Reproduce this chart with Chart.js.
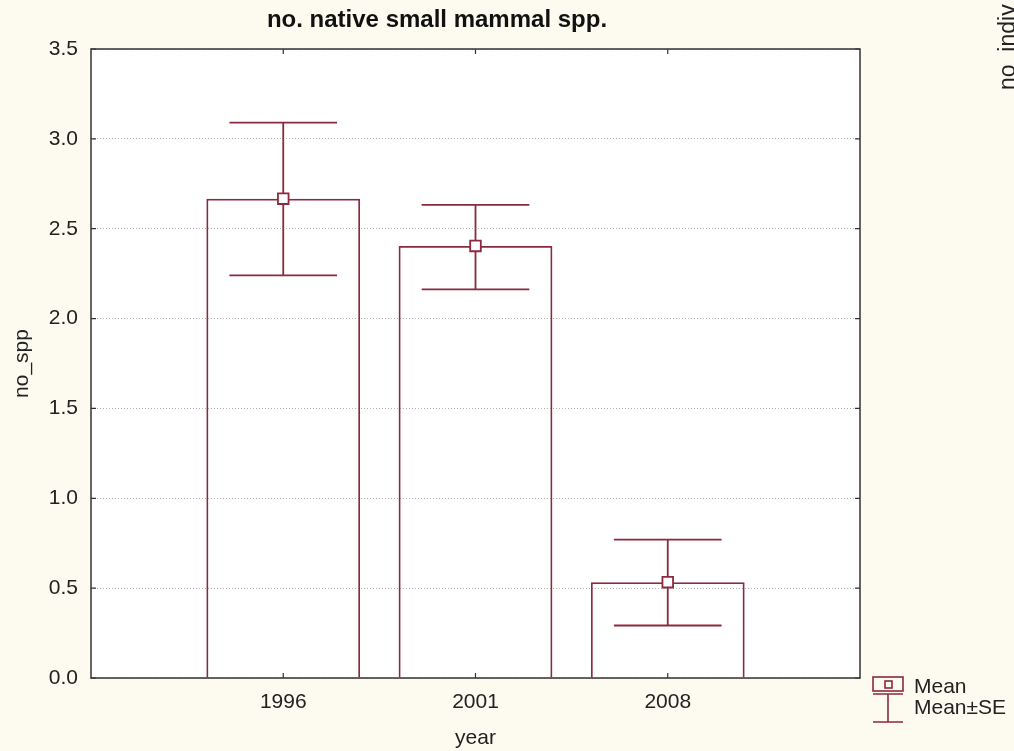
<!DOCTYPE html>
<html>
<head>
<meta charset="utf-8">
<script src="https://cdn.jsdelivr.net/npm/chart.js@4.4.1/dist/chart.umd.min.js"></script>
<style>
  html, body { margin: 0; padding: 0; background: #fdfaf0; }
  #wrap { width: 1014px; height: 751px; }
</style>
</head>
<body>
<div id="wrap"><canvas id="chart" width="1014" height="751"></canvas></div>
<script>
let years = ['1996', '2001', '2008'];
let means = [2.667, 2.404, 0.533];
let seUpper = [3.090, 2.633, 0.770];
let seLower = [2.240, 2.163, 0.292];
let yTicks = [0, 0.5, 1, 1.5, 2, 2.5, 3, 3.5];

let maroon = '#8b2a3e';
let ink = '#222222';
let fontFamily = '"Liberation Sans", Arial, sans-serif';

// years sit at x = 1, 2, 3 on a 0..4 axis
let barPoints = years.map((y, i) => ({ x: i + 1, y: means[i] }));

let backdrop = {
  id: 'backdrop',
  beforeDraw(chart) {
    let { ctx, chartArea: a } = chart;
    ctx.save();
    ctx.fillStyle = '#fdfaf0';
    ctx.fillRect(0, 0, chart.width, chart.height);
    ctx.fillStyle = '#ffffff';
    ctx.fillRect(a.left, a.top, a.right - a.left, a.bottom - a.top);
    ctx.restore();
  }
};

let errorBars = {
  id: 'errorBars',
  afterDatasetDraw(chart, args) {
    if (args.index !== 0) return;
    let { ctx, scales } = chart;
    let meta = chart.getDatasetMeta(0);
    ctx.save();
    ctx.strokeStyle = maroon;
    ctx.lineWidth = 1.8;
    meta.data.forEach((bar, i) => {
      let x = scales.x.getPixelForValue(i + 1);
      let yTop = scales.y.getPixelForValue(seUpper[i]);
      let yBot = scales.y.getPixelForValue(seLower[i]);
      let half = bar.width * 0.35;
      ctx.beginPath();
      ctx.moveTo(x, yTop); ctx.lineTo(x, yBot);
      ctx.moveTo(x - half, yTop); ctx.lineTo(x + half, yTop);
      ctx.moveTo(x - half, yBot); ctx.lineTo(x + half, yBot);
      ctx.stroke();
    });
    ctx.restore();
  }
};

let frame = {
  id: 'frame',
  afterDraw(chart) {
    let { ctx, chartArea: a, scales } = chart;
    ctx.save();
    ctx.strokeStyle = '#333333';
    ctx.lineWidth = 1.5;
    ctx.strokeRect(a.left, a.top, a.right - a.left, a.bottom - a.top);

    // inward tick marks on all four sides
    ctx.lineWidth = 1.2;
    ctx.beginPath();
    yTicks.forEach(v => {
      let y = scales.y.getPixelForValue(v);
      ctx.moveTo(a.left, y); ctx.lineTo(a.left + 5, y);
      ctx.moveTo(a.right, y); ctx.lineTo(a.right - 5, y);
    });
    years.forEach((yr, i) => {
      let x = scales.x.getPixelForValue(i + 1);
      ctx.moveTo(x, a.bottom); ctx.lineTo(x, a.bottom - 5);
      ctx.moveTo(x, a.top); ctx.lineTo(x, a.top + 5);
    });
    ctx.stroke();

    // title
    ctx.fillStyle = '#111111';
    ctx.font = 'bold 24px ' + fontFamily;
    ctx.textAlign = 'center';
    ctx.textBaseline = 'middle';
    ctx.fillText('no. native small mammal spp.', 437, 20);

    // legend
    let lx = 873, lw = 30;
    ctx.strokeStyle = maroon;
    ctx.lineWidth = 1.6;
    ctx.strokeRect(lx, 677, lw, 14);
    ctx.strokeRect(lx + 12, 681, 7, 7);
    ctx.beginPath();
    ctx.moveTo(lx, 694); ctx.lineTo(lx + lw, 694);
    ctx.moveTo(lx + 15, 694); ctx.lineTo(lx + 15, 722);
    ctx.moveTo(lx, 722); ctx.lineTo(lx + lw, 722);
    ctx.stroke();
    ctx.fillStyle = ink;
    ctx.font = '21px ' + fontFamily;
    ctx.textAlign = 'left';
    ctx.fillText('Mean', 914, 687);
    ctx.fillText('Mean\u00b1SE', 914, 708);

    // clipped axis title of the neighbouring chart
    ctx.font = '23px ' + fontFamily;
    ctx.translate(1015, 90);
    ctx.rotate(-Math.PI / 2);
    ctx.textBaseline = 'alphabetic';
    ctx.fillText('no_indiv', 0, 0);
    ctx.restore();
  }
};

new Chart(document.getElementById('chart'), {
  type: 'bar',
  data: {
    datasets: [{
      type: 'bar',
      label: 'Mean',
      data: barPoints,
      backgroundColor: 'rgba(255,255,255,0)',
      borderColor: maroon,
      borderWidth: 1.8,
      borderSkipped: 'start',
      barPercentage: 0.8,
      categoryPercentage: 1.0,
      order: 2
    }, {
      type: 'scatter',
      label: 'Mean marker',
      data: barPoints,
      pointStyle: 'rect',
      pointRadius: 7.5,
      pointBackgroundColor: '#ffffff',
      pointBorderColor: maroon,
      pointBorderWidth: 1.8,
      order: 1
    }]
  },
  options: {
    responsive: false,
    animation: false,
    devicePixelRatio: 1,
    layout: { padding: { top: 49, right: 154, bottom: 0, left: 0 } },
    plugins: {
      legend: { display: false },
      tooltip: { enabled: false },
      title: { display: false }
    },
    scales: {
      x: {
        type: 'linear',
        offset: false,
        min: 0,
        max: 4,
        afterFit(scale) { scale.height = 73; },
        afterBuildTicks(scale) {
          scale.ticks = years.map((y, i) => ({ value: i + 1 }));
        },
        ticks: {
          padding: 12,
          color: ink,
          font: { family: fontFamily, size: 21 },
          callback: v => years[v - 1] || ''
        },
        grid: { display: false, drawTicks: false },
        border: { display: false },
        title: {
          display: true,
          text: 'year',
          color: ink,
          font: { family: fontFamily, size: 21 },
          padding: { top: 0, bottom: 0 }
        }
      },
      y: {
        min: 0,
        max: 3.5,
        afterFit(scale) { scale.width = 91; },
        afterBuildTicks(scale) {
          scale.ticks = yTicks.map(v => ({ value: v }));
        },
        ticks: {
          padding: 13,
          color: ink,
          font: { family: fontFamily, size: 21 },
          callback: v => v.toFixed(1)
        },
        grid: { color: '#b4b4b4', lineWidth: 1, drawTicks: false },
        border: { display: false, dash: [1, 2] },
        title: {
          display: true,
          text: 'no_spp',
          color: ink,
          font: { family: fontFamily, size: 21 },
          padding: { top: 10, bottom: 0 }
        }
      }
    }
  },
  plugins: [backdrop, errorBars, frame]
});
</script>
</body>
</html>
